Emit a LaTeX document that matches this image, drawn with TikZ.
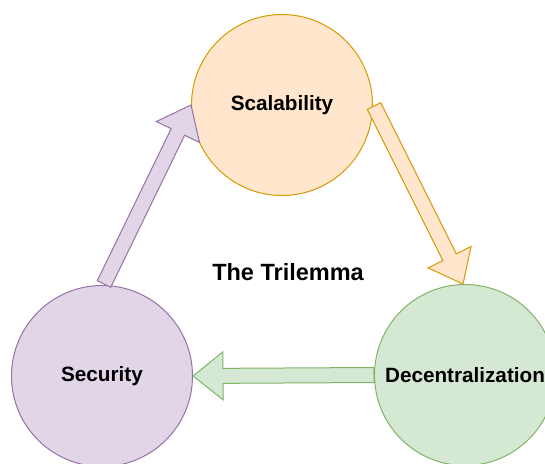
\documentclass[tikz,border=0pt]{standalone}
\usepackage{fontspec}
\setmainfont{Liberation Sans}
\usetikzlibrary{calc}

\definecolor{orangefill}{HTML}{FFE6CC}
\definecolor{orangeline}{HTML}{D79B00}
\definecolor{purplefill}{HTML}{E1D5E7}
\definecolor{purpleline}{HTML}{9673A6}
\definecolor{greenfill}{HTML}{D5E8D4}
\definecolor{greenline}{HTML}{82B366}

\tikzset{
  topic/.style={circle, line width=1pt, minimum size=181pt, inner sep=0pt,
    font=\fontsize{20.7}{24}\selectfont\bfseries},
  orangestyle/.style={fill=orangefill, draw=orangeline},
  purplestyle/.style={fill=purplefill, draw=purpleline},
  greenstyle/.style={fill=greenfill, draw=greenline},
  blockarrow/.style={line width=1pt, line join=miter},
}

% Wide outlined block arrow from #2 to #3 (shaft half-width 7.5, head half-width 24, head length 30)
\newcommand\blockarrow[3]{%
  \coordinate (ba-h) at ($(#3)!30pt!(#2)$);
  \draw[blockarrow,#1]
    ($(#2)!7.5pt!90:(#3)$) -- ($(ba-h)!7.5pt!-90:(#2)$) -- ($(ba-h)!24pt!-90:(#2)$)
    -- (#3)
    -- ($(ba-h)!24pt!90:(#2)$) -- ($(ba-h)!7.5pt!90:(#2)$) -- ($(#2)!7.5pt!-90:(#3)$) -- cycle;
}

\begin{document}
\begin{tikzpicture}[x=1pt, y=-1pt]
  \useasboundingbox (0,0) rectangle (545,463);

  \node[topic, orangestyle] (scal) at (282,105) {Scalability};
  \node[topic, purplestyle] (sec) at (102,376) {Security};
  \node[topic, greenstyle] (dec) at (465,375) {Decentralization};

  \node[font=\fontsize{23.5}{28}\selectfont\bfseries] (title) at (288,272) {The Trilemma};

  \coordinate (pa) at ($(sec.north)+(2,-1)$);
  \blockarrow{purplestyle}{pa}{scal.west}
  \coordinate (oa) at ($(scal.east)+(1,1)$);
  \coordinate (ob) at ($(dec.north)+(-2,0)$);
  \blockarrow{orangestyle}{oa}{ob}
  \blockarrow{greenstyle}{dec.west}{sec.east}
\end{tikzpicture}
\end{document}
